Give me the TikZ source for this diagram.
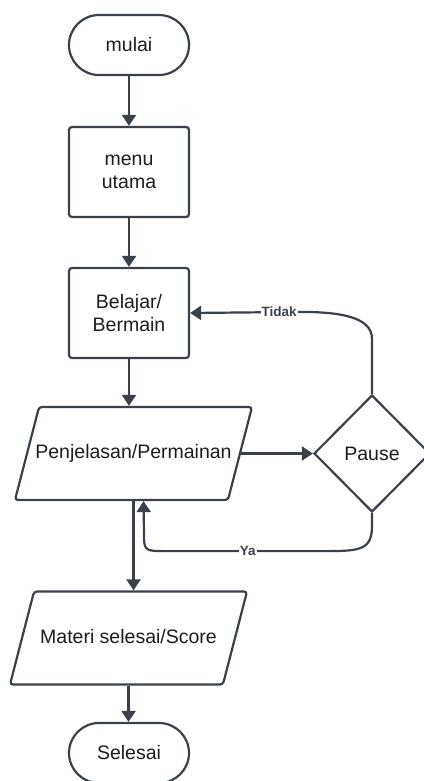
\documentclass[tikz,border=0pt]{standalone}
\usepackage{fontspec}
\setmainfont{Liberation Sans}
\usetikzlibrary{
  arrows.meta,      % Triangle 箭头样式
  shapes.geometric, % 菱形与平行四边形
  calc              % 坐标计算
}
\definecolor{linegray}{RGB}{58,65,74}
\definecolor{textgray}{RGB}{28,28,28}
\tikzset{
  terminal/.style={
    draw=linegray,
    line width=2.2pt,
    rounded corners=30pt,
    minimum width=120pt,
    minimum height=60pt,
    inner sep=0pt,
    text=textgray,
    font=\fontsize{19.5}{23}\selectfont
  },
  process/.style={
    draw=linegray,
    line width=2.2pt,
    rounded corners=3pt,
    minimum width=120pt,
    minimum height=90pt,
    align=center,
    text=textgray,
    font=\fontsize{19.5}{23}\selectfont
  },
  io box/.style={
    trapezium,
    trapezium left angle=75.5,
    trapezium right angle=104.5,
    trapezium stretches body=true,
    draw=linegray,
    line width=2.2pt,
    rounded corners=3pt,
    text height=14pt,
    text depth=4pt,
    inner ysep=37.5pt,
    inner xsep=-9pt,
    minimum width=237pt,
    text=textgray,
    font=\fontsize{19.5}{23}\selectfont
  },
  decision/.style={
    diamond,
    draw=linegray,
    line width=2.2pt,
    minimum width=116pt,
    minimum height=117pt,
    inner sep=0pt,
    text=textgray,
    font=\fontsize{19.5}{23}\selectfont
  },
  flow/.style={
    -{Triangle[length=11pt, width=14pt]},
    line width=2.2pt,
    color=linegray
  },
  branch label/.style={
    fill=white,
    inner sep=1pt,
    text=linegray,
    font=\bfseries\fontsize{13.5}{15}\selectfont
  }
}

\begin{document}
\begin{tikzpicture}[x=1pt, y=1pt]

  % 1. 固定画布大小
  \useasboundingbox (0,0) rectangle (423,-781);

  % 2. 流程节点
  \node[terminal] (mulai)      at (129,-45)      {mulai};
  \node[process]  (menu)       at (129,-172)     {menu\\utama};
  \node[process]  (belajar)    at (129,-313)     {Belajar/\\Bermain};
  \node[io box]   (penjelasan) at (133.5,-453.5) {Penjelasan/Permainan};
  \node[decision] (pause)      at (372,-453.5)   {Pause};
  \node[io box]   (materi)     at (128.5,-638)   {Materi selesai/Score};
  \node[terminal] (selesai)    at (129,-753)     {Selesai};

  % 3. 主干箭头
  \draw[flow] (mulai) -- (menu);
  \draw[flow] (menu) -- (belajar);
  \draw[flow] (belajar.south) -- (belajar.south |- penjelasan.north);
  \draw[flow] (penjelasan.east) -- (pause.west);
  \draw[flow] (penjelasan.south) -- (penjelasan.south |- materi.north);
  \draw[flow] (materi.south) -- (materi.south |- selesai.north);

  % 4. 判断分支：Tidak 回到 Belajar，Ya 回到 Penjelasan
  \draw[flow] (pause.north) -- ++(0,55)
    .. controls +(0,22) and +(40,0) .. ++(-72,27)
    -- node[branch label, pos=0.19] {Tidak} (belajar.east);
  \coordinate (ya in) at ([xshift=10pt]penjelasan.south);
  \draw[flow] (pause.south) -- ++(0,-12)
    .. controls +(0,-24) and +(35,0) .. ++(-45,-26)
    -- node[branch label, pos=0.48] {Ya} ++(-165,0)
    .. controls +(-18,0) and +(0,-16) .. ++(-18,18)
    -- (ya in);

\end{tikzpicture}
\end{document}
